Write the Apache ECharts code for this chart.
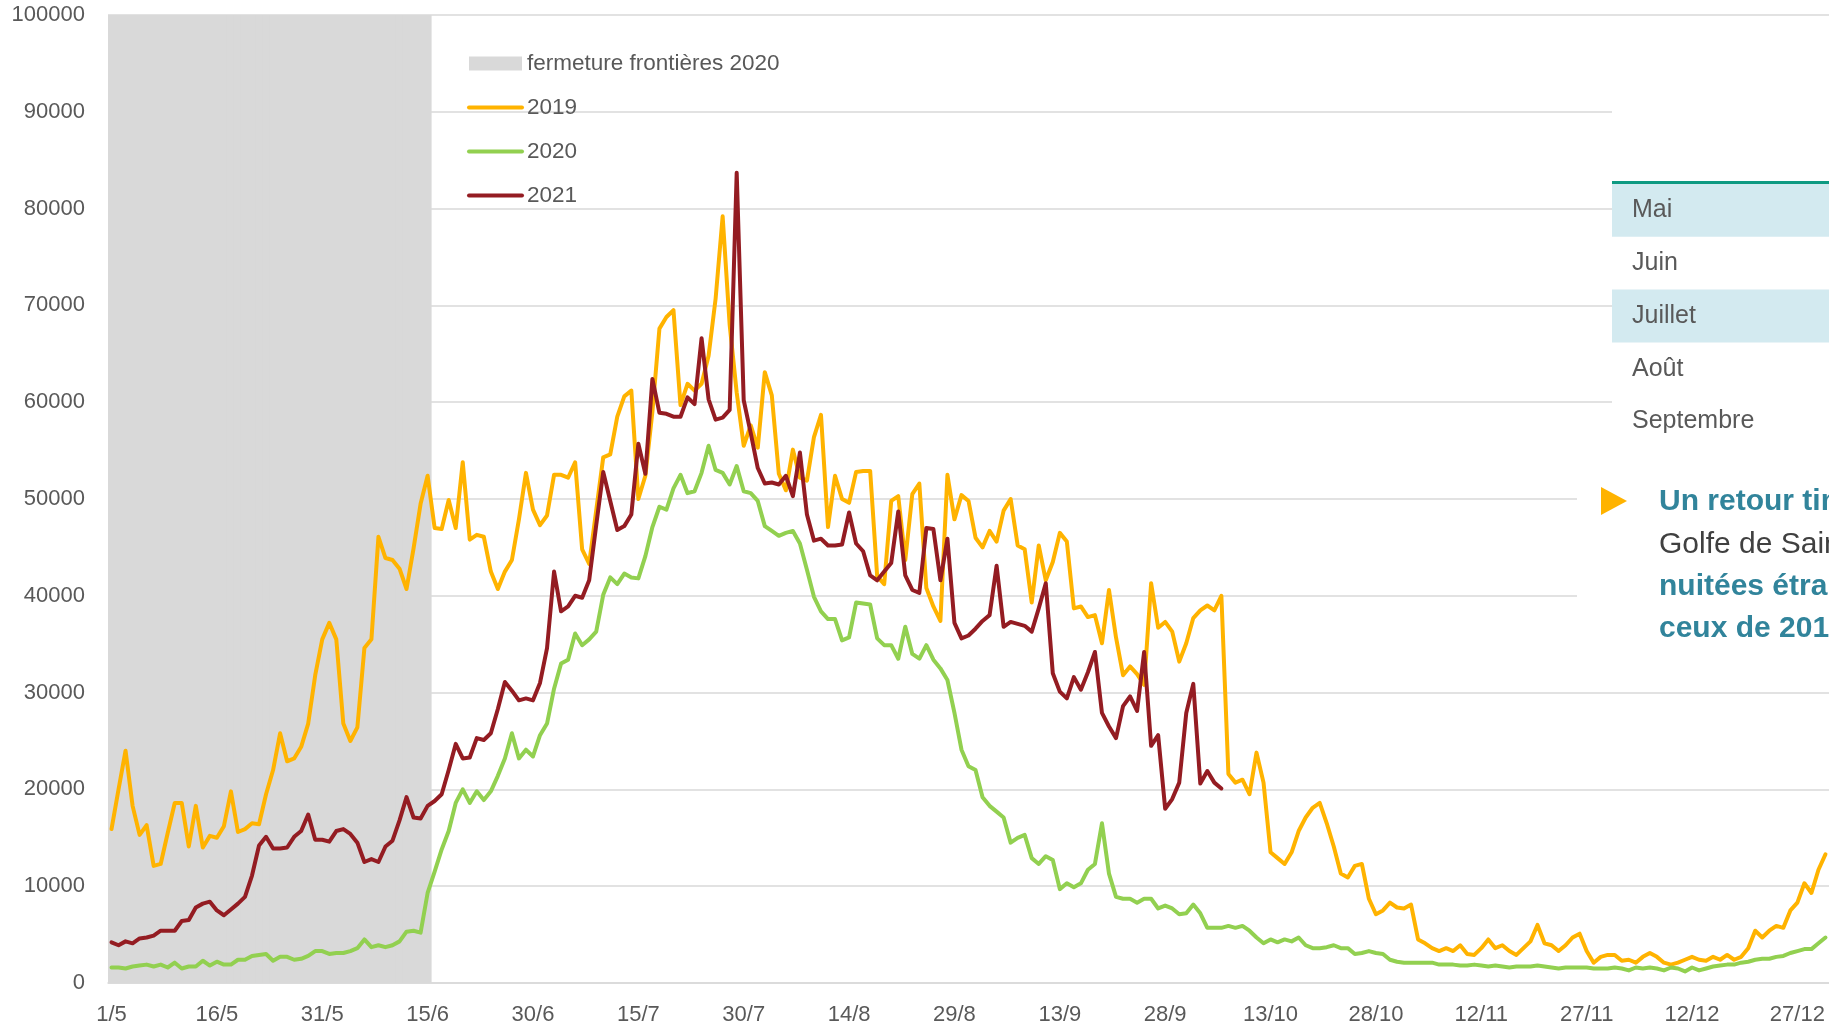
<!DOCTYPE html>
<html>
<head>
<meta charset="utf-8">
<style>
  html, body { margin: 0; padding: 0; background: #fff; }
  #chart { width: 1829px; height: 1026px; }
</style>
<script src="https://cdn.jsdelivr.net/npm/echarts@6/dist/echarts.min.js"></script>
</head>
<body>
<div id="chart"></div>
<script>
// jours du 1/5 au 31/12
const categories = []
for (let i = 0; i < 245; i++) {
  const d = new Date(Date.UTC(2021, 4, 1 + i))
  categories.push(d.getUTCDate() + '/' + (d.getUTCMonth() + 1))
}

// fermeture des frontières 2020 : 1/5 -> 15/6
const closure = categories.map((c, i) => (i <= 45 ? 100000 : null))

const y2019 = [
  15900, 20000, 24000, 18300, 15300, 16300, 12100, 12300, 15500, 18600,
  18600, 14100, 18300, 14000, 15200, 15000, 16200, 19800, 15600, 15900,
  16500, 16400, 19500, 22000, 25800, 22900, 23200, 24400, 26800, 31800,
  35500, 37200, 35500, 26800, 25000, 26400, 34600, 35500, 46100, 43900,
  43700, 42800, 40700, 44900, 49500, 52400, 47000, 46900, 49900, 47000,
  53800, 45800, 46300, 46100, 42500, 40700, 42500, 43700, 47900, 52700,
  48900, 47300, 48300, 52500, 52500, 52200, 53800, 44800, 43300, 48800,
  54300, 54600, 58500, 60600, 61200, 50000, 52400, 59000, 67600, 68800,
  69500, 59700, 61900, 61200, 61900, 64800, 70700, 79200, 68000, 61000,
  55500, 57600, 55300, 63100, 60700, 52600, 50900, 55100, 52200, 51900,
  56400, 58700, 47100, 52400, 50000, 49600, 52800, 52900, 52900, 42000,
  41200, 49800, 50300, 43700, 50500, 51600, 40800, 38900, 37400, 52500,
  47900, 50400, 49800, 46000, 45000, 46700, 45600, 48800, 50000, 45200,
  44800, 39300, 45200, 41600, 43500, 46500, 45600, 38700, 38900, 37800,
  38000, 35100, 40600, 35700, 31800, 32700, 31900, 30800, 41300, 36700,
  37300, 36300, 33200, 35100, 37700, 38500, 39000, 38500, 40000,
  21600, 20700, 21000, 19500, 23800, 20700, 13500, 12900, 12300, 13500,
  15700, 17100, 18100, 18600, 16500, 14100, 11300, 10900, 12100, 12300,
  8700, 7100, 7500, 8300, 7800, 7700, 8100, 4500, 4100, 3600,
  3300, 3600, 3300, 3900, 3000, 2900, 3600, 4500, 3600, 3900,
  3300, 2900, 3600, 4300, 6000, 4100, 3900, 3300, 3900, 4700,
  5100, 3300, 2100, 2700, 2900, 2900, 2300, 2400, 2100, 2700,
  3100, 2700, 2100, 1900, 2100, 2400, 2700, 2400, 2300, 2700,
  2400, 2900, 2400, 2700, 3600, 5400, 4700, 5400, 5900, 5700,
  7500, 8300, 10300, 9300, 11700, 13300
]

const y2020 = [
  1600, 1600, 1500, 1700, 1800, 1900, 1700, 1900, 1600, 2100,
  1500, 1700, 1700, 2300, 1800, 2200, 1900, 1900, 2400, 2400,
  2800, 2900, 3000, 2300, 2700, 2700, 2400, 2500, 2800, 3300,
  3300, 3000, 3100, 3100, 3300, 3600, 4500, 3700, 3900, 3700,
  3900, 4300, 5300, 5400, 5200, 9300, 11500, 13800, 15700, 18600,
  20000, 18600, 19800, 18900, 19800, 21400, 23200, 25800, 23200, 24100,
  23400, 25600, 26800, 30400, 33000, 33400, 36100, 34900, 35500, 36300,
  40100, 41900, 41200, 42300, 41900, 41800, 44100, 47100, 49200, 48900,
  51100, 52500, 50600, 50800, 52700, 55500, 53000, 52700, 51500, 53400,
  50800, 50600, 49800, 47200, 46700, 46200, 46500, 46700, 45400, 42700,
  39900, 38400, 37600, 37600, 35400, 35700, 39300, 39200, 39100, 35600,
  34900, 34900, 33500, 36800, 34000, 33500, 34900, 33400, 32500, 31300,
  27900, 24100, 22400, 22000, 19200,
  18300, 17700, 17100, 14500, 15000, 15300, 12900, 12300, 13100, 12700,
  9700, 10300, 9900, 10300, 11700, 12300, 16500, 11300, 8900, 8700,
  8700, 8300, 8700, 8700, 7700, 8000, 7700, 7100, 7200, 8100,
  7200, 5700, 5700, 5700, 5900, 5700, 5900, 5400, 4700, 4100,
  4500, 4200, 4500, 4300, 4700, 3900, 3600, 3600, 3700, 3900,
  3600, 3600, 3000, 3100, 3300, 3100, 3000, 2400, 2200, 2100,
  2100, 2100, 2100, 2100, 1900, 1900, 1900, 1800, 1800, 1900,
  1800, 1700, 1800, 1700, 1600, 1700, 1700, 1700, 1800, 1700,
  1600, 1500, 1600, 1600, 1600, 1600, 1500, 1500, 1500, 1600,
  1500, 1300, 1600, 1500, 1600, 1500, 1300, 1600, 1500, 1200,
  1600, 1300, 1500, 1700, 1800, 1900, 1900, 2100, 2200, 2400,
  2500, 2500, 2700, 2800, 3100, 3300, 3500, 3500, 4100, 4700
]

// 2021 : données jusqu'au 6/10
const y2021 = [
  4200, 3900, 4300, 4100, 4600, 4700, 4900, 5400, 5400, 5400,
  6400, 6500, 7800, 8200, 8400, 7500, 7000, 7600, 8200, 8900,
  11100, 14200, 15100, 13900, 13900, 14000, 15100, 15700, 17400, 14800,
  14800, 14600, 15700, 15900, 15400, 14500, 12500, 12800, 12500, 14100,
  14700, 16800, 19200, 17100, 17000, 18300, 18800, 19500, 22000, 24700,
  23200, 23300, 25300, 25100, 25800, 28300, 31100, 30200, 29200, 29400,
  29200, 31000, 34600, 42500, 38400, 38900, 40000, 39800, 41600, 47300,
  52800, 49800, 46800, 47200, 48400, 55700, 52600, 62400, 58900, 58800,
  58500, 58500, 60500, 59800, 66600, 60300, 58200, 58400, 59200, 83700,
  60200, 56800, 53200, 51600, 51700, 51500, 52400, 50300, 54800, 48400,
  45700, 45900, 45200, 45200, 45300, 48600, 45400, 44600, 42100, 41600,
  42500, 43400, 48700, 42100, 40600, 40300, 47000, 46900, 41600, 45900,
  37200, 35600, 35900, 36600, 37400, 38000, 43100, 36800, 37300, 37100,
  36900, 36300, 38700, 41300, 32000, 30100, 29400, 31600, 30300, 32100,
  34200, 27900, 26500, 25300, 28600, 29600, 28100, 34200, 24500, 25600,
  18000, 19000, 20700, 27900, 30900, 20600, 21900, 20700, 20100
]

const tableRows = ['Mai', 'Juin', 'Juillet', 'Août', 'Septembre']
const noteLines = [
  'Un retour timide des clientèles étrangères',
  'Golfe de Saint-Tropez : le volume des',
  'nuitées étrangères reste inférieur à',
  'ceux de 2019'
]

const FONT = "'Liberation Sans', Arial, sans-serif"
const GREY_TXT = '#595959'

const chart = echarts.init(document.getElementById('chart'))

// tableau des mois + encadré texte posés sur le graphique
const graphics = [
  { type: 'rect', z: 50, shape: { x: 1612, y: 40, width: 230, height: 420 }, style: { fill: '#fff' } },
  { type: 'rect', z: 50, shape: { x: 1577, y: 460, width: 260, height: 200 }, style: { fill: '#fff' } },
  { type: 'rect', z: 51, shape: { x: 1612, y: 181, width: 230, height: 3 }, style: { fill: '#0E9A82' } }
]
tableRows.forEach((m, i) => {
  const top = 184 + i * 52.8
  if (i % 2 === 0 && i < 4) {
    graphics.push({ type: 'rect', z: 51, shape: { x: 1612, y: top, width: 230, height: 52.8 }, style: { fill: '#D3EAF0' } })
  }
  graphics.push({
    type: 'text', z: 52, x: 1632, y: top + 26.4,
    style: { text: m, fill: GREY_TXT, font: '25px ' + FONT, textVerticalAlign: 'middle' }
  })
})
graphics.push({
  type: 'polygon', z: 52,
  shape: { points: [[1601, 487], [1627, 501], [1601, 515]] },
  style: { fill: '#FFB300' }
})
noteLines.forEach((t, i) => {
  const bold = i !== 1
  graphics.push({
    type: 'text', z: 52, x: 1659, y: 502 + i * 42.3,
    style: {
      text: t,
      fill: bold ? '#31849B' : '#404040',
      font: (bold ? 'bold ' : '') + '30px ' + FONT,
      textVerticalAlign: 'middle'
    }
  })
})

const option = {
  animation: false,
  backgroundColor: '#fff',
  grid: { left: 108, top: 15, width: 1723, height: 968 },
  legend: {
    orient: 'vertical',
    left: 467,
    top: 52,
    padding: 0,
    itemWidth: 53,
    itemHeight: 14,
    itemGap: 21,
    selectedMode: false,
    lineStyle: { width: 4, cap: 'round' },
    textStyle: { fontSize: 22.5, color: GREY_TXT, fontFamily: FONT },
    data: [
      { name: 'fermeture frontières 2020', icon: 'rect' },
      { name: '2019', itemStyle: { opacity: 0 } },
      { name: '2020', itemStyle: { opacity: 0 } },
      { name: '2021', itemStyle: { opacity: 0 } }
    ]
  },
  xAxis: {
    type: 'category',
    data: categories,
    boundaryGap: true,
    axisLine: { lineStyle: { color: '#D9D9D9', width: 1.5 } },
    axisTick: { show: false },
    axisLabel: { interval: 14, fontSize: 22, color: GREY_TXT, fontFamily: FONT, margin: 21 },
    splitLine: { show: false }
  },
  yAxis: {
    type: 'value',
    min: 0,
    max: 100000,
    interval: 10000,
    axisLine: { show: false },
    axisTick: { show: false },
    axisLabel: { fontSize: 22, color: GREY_TXT, fontFamily: FONT, margin: 23, formatter: v => String(v) },
    splitLine: { lineStyle: { color: '#D9D9D9', width: 1.5 } }
  },
  series: [
    {
      name: 'fermeture frontières 2020',
      type: 'bar',
      data: closure,
      barWidth: 8,
      itemStyle: { color: '#D9D9D9' },
      silent: true
    },
    {
      name: '2019', type: 'line', data: y2019, symbol: 'none',
      itemStyle: { color: '#FFB300' },
      lineStyle: { color: '#FFB300', width: 4, cap: 'round', join: 'round' }
    },
    {
      name: '2020', type: 'line', data: y2020, symbol: 'none',
      itemStyle: { color: '#92D050' },
      lineStyle: { color: '#92D050', width: 4, cap: 'round', join: 'round' }
    },
    {
      name: '2021', type: 'line', data: y2021, symbol: 'none',
      itemStyle: { color: '#941C22' },
      lineStyle: { color: '#941C22', width: 4, cap: 'round', join: 'round' }
    }
  ],
  graphic: graphics
}

chart.setOption(option)
</script>
</body>
</html>
